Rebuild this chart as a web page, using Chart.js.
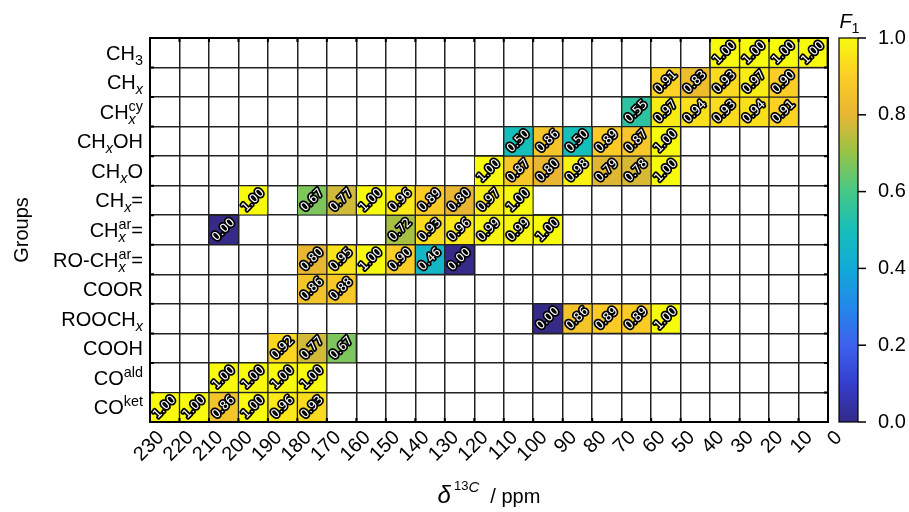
<!DOCTYPE html>
<html>
<head>
<meta charset="utf-8">
<script src="https://cdn.jsdelivr.net/npm/chart.js@4.4.0/dist/chart.umd.min.js"></script>
<style>
  html, body { margin: 0; padding: 0; background: #fff; }
  #wrap { width: 909px; height: 512px; }
</style>
</head>
<body>
<div id="wrap"><canvas id="chart" width="909" height="512"></canvas></div>
<script>
// group labels, top to bottom ("_" = subscript, "^" = superscript)
const groups = ['CH_3', 'CH_x', 'CH_x^{cy}', 'CH_xOH', 'CH_xO', 'CH_x=', 'CH_x^{ar}=',
    'RO-CH_x^{ar}=', 'COOR', 'ROOCH_x', 'COOH', 'CO^{ald}', 'CO^{ket}'];

const ppmMin = 0;
const ppmMax = 230;
const binWidth = 10;
const cbTicks = [0, 0.2, 0.4, 0.6, 0.8, 1.0];

// lower edge (ppm) of each filled cell, one list per group
const cellLow = [
    [30, 20, 10, 0],
    [50, 40, 30, 20, 10],
    [60, 50, 40, 30, 20, 10],
    [100, 90, 80, 70, 60, 50],
    [110, 100, 90, 80, 70, 60, 50],
    [190, 170, 160, 150, 140, 130, 120, 110, 100],
    [200, 140, 130, 120, 110, 100, 90],
    [170, 160, 150, 140, 130, 120],
    [170, 160],
    [90, 80, 70, 60, 50],
    [180, 170, 160],
    [200, 190, 180, 170],
    [220, 210, 200, 190, 180, 170]
];

// F1 score of each cell, same order as cellLow
const cellF1 = [
    [1.00, 1.00, 1.00, 1.00],
    [0.91, 0.83, 0.93, 0.97, 0.90],
    [0.55, 0.97, 0.94, 0.93, 0.94, 0.91],
    [0.50, 0.86, 0.50, 0.89, 0.87, 1.00],
    [1.00, 0.87, 0.80, 0.98, 0.79, 0.78, 1.00],
    [1.00, 0.67, 0.77, 1.00, 0.96, 0.89, 0.80, 0.97, 1.00],
    [0.00, 0.72, 0.93, 0.96, 0.99, 0.99, 1.00],
    [0.80, 0.95, 1.00, 0.90, 0.46, 0.00],
    [0.86, 0.88],
    [0.00, 0.86, 0.89, 0.89, 1.00],
    [0.92, 0.77, 0.67],
    [1.00, 1.00, 1.00, 1.00],
    [1.00, 1.00, 0.86, 1.00, 0.96, 0.93]
];

// parula-like colour map
const cmapPos = [0, 0.1, 0.2, 0.3, 0.4, 0.5, 0.6, 0.7, 0.8, 0.9, 1.0];
const cmapRGB = [
    [53, 42, 135], [52, 62, 205], [62, 98, 238], [35, 136, 233], [18, 170, 215],
    [22, 190, 185], [70, 200, 135], [150, 195, 72], [232, 182, 50], [252, 205, 38], [248, 250, 14]
];

function f1Color(v) {
    v = Math.max(0, Math.min(1, v));
    let i = 0;
    while (i < cmapPos.length - 2 && v > cmapPos[i + 1]) i++;
    const t = (v - cmapPos[i]) / (cmapPos[i + 1] - cmapPos[i]);
    const a = cmapRGB[i], b = cmapRGB[i + 1];
    const c = a.map((x, k) => Math.round(x + (b[k] - x) * t));
    return `rgb(${c[0]},${c[1]},${c[2]})`;
}

const FONT = "'Liberation Sans', Arial, sans-serif";
const FS = 20;

// turn 'CH_x^{cy}' into runs of normal / sub / sup text
function parseRich(s) {
    const runs = [];
    let buf = '';
    let i = 0;
    while (i < s.length) {
        const ch = s[i];
        if (ch === '_' || ch === '^') {
            if (buf) { runs.push({ t: buf, mode: 'n' }); buf = ''; }
            let arg;
            if (s[i + 1] === '{') {
                const end = s.indexOf('}', i);
                arg = s.slice(i + 2, end);
                i = end + 1;
            } else {
                arg = s[i + 1];
                i += 2;
            }
            runs.push({ t: arg, mode: ch === '_' ? 'sub' : 'sup', italic: arg === 'x' });
        } else {
            buf += ch;
            i++;
        }
    }
    if (buf) runs.push({ t: buf, mode: 'n' });
    return runs;
}

function runFont(r, size) {
    const sz = r.mode === 'n' ? size : size * 0.72;
    return `${r.italic ? 'italic ' : ''}${sz}px ${FONT}`;
}

// draw runs; sub directly followed by sup are stacked
function drawRich(ctx, runs, x, y, align, size) {
    const pieces = [];
    let w = 0;
    for (let i = 0; i < runs.length; i++) {
        const r = runs[i];
        ctx.font = runFont(r, size);
        const rw = ctx.measureText(r.t).width;
        const next = runs[i + 1];
        if (r.mode !== 'n' && next && next.mode !== 'n' && next.mode !== r.mode) {
            ctx.font = runFont(next, size);
            const nw = ctx.measureText(next.t).width;
            pieces.push({ r, x: w }, { r: next, x: w });
            w += Math.max(rw, nw);
            i++;
        } else {
            pieces.push({ r, x: w });
            w += rw;
        }
    }
    const x0 = align === 'right' ? x - w : align === 'center' ? x - w / 2 : x;
    ctx.textAlign = 'left';
    ctx.textBaseline = 'alphabetic';
    pieces.forEach(p => {
        ctx.font = runFont(p.r, size);
        let dy = 0;
        if (p.r.mode === 'sub') dy = size * 0.25;
        if (p.r.mode === 'sup') dy = -size * 0.4;
        ctx.fillText(p.r.t, x0 + p.x, y + dy);
    });
}

const cells = [];
groups.forEach((g, r) => {
    cellLow[r].forEach((lo, k) => {
        cells.push({ x: [lo, lo + binWidth], y: g, v: cellF1[r][k] });
    });
});

const heatPlugin = {
    id: 'heatDecor',
    afterDatasetsDraw(chart) {
        const ctx = chart.ctx;
        const area = chart.chartArea;
        const xs = chart.scales.x;
        const meta = chart.getDatasetMeta(0);

        // values in the cells
        ctx.save();
        ctx.font = `12px 'DejaVu Sans', sans-serif`;
        ctx.textAlign = 'center';
        ctx.textBaseline = 'middle';
        ctx.lineJoin = 'round';
        meta.data.forEach((el, i) => {
            const c = el.getCenterPoint();
            const txt = chart.data.datasets[0].data[i].v.toFixed(2);
            ctx.save();
            ctx.translate(c.x, c.y);
            ctx.rotate(-Math.PI / 4);
            ctx.lineWidth = 3.5;
            ctx.strokeStyle = '#000';
            ctx.strokeText(txt, 0, 0);
            ctx.fillStyle = '#fff';
            ctx.fillText(txt, 0, 0);
            ctx.restore();
        });
        ctx.restore();

        // frame and inward ticks
        ctx.save();
        ctx.strokeStyle = '#000';
        ctx.lineWidth = 2;
        for (let v = ppmMin; v <= ppmMax; v += binWidth) {
            const px = xs.getPixelForValue(v);
            ctx.beginPath();
            ctx.moveTo(px, area.top); ctx.lineTo(px, area.top + 4);
            ctx.moveTo(px, area.bottom); ctx.lineTo(px, area.bottom - 4);
            ctx.stroke();
        }
        const rowH = (area.bottom - area.top) / groups.length;
        for (let r = 0; r <= groups.length; r++) {
            const py = area.top + r * rowH;
            ctx.beginPath();
            ctx.moveTo(area.left, py); ctx.lineTo(area.left + 4, py);
            ctx.moveTo(area.right, py); ctx.lineTo(area.right - 4, py);
            ctx.stroke();
        }
        ctx.strokeRect(area.left, area.top, area.right - area.left, area.bottom - area.top);
        ctx.restore();
    },
    afterDraw(chart) {
        const ctx = chart.ctx;
        const area = chart.chartArea;
        const ys = chart.scales.y;
        const cb = chart.scales.cb;

        ctx.save();
        ctx.fillStyle = '#000';

        // group labels
        groups.forEach((g, i) => {
            const py = ys.getPixelForValue(i);
            drawRich(ctx, parseRich(g), area.left - 7, py + 7, 'right', FS);
        });

        // x axis title: delta^13C / ppm
        const cx = (area.left + area.right) / 2;
        ctx.font = `italic 24px ${FONT}`;
        const wD = ctx.measureText('δ').width;
        ctx.font = `13px ${FONT}`;
        const w13 = ctx.measureText('13').width;
        ctx.font = `italic 15px ${FONT}`;
        const wC = ctx.measureText('C').width;
        ctx.font = `${FS}px ${FONT}`;
        const wP = ctx.measureText('  / ppm').width;
        const total = wD + w13 + wC + wP + 3;
        let tx = cx - total / 2;
        const ty = 503;
        ctx.textAlign = 'left';
        ctx.textBaseline = 'alphabetic';
        ctx.font = `italic 24px ${FONT}`;
        ctx.fillText('δ', tx, ty); tx += wD + 3;
        ctx.font = `13px ${FONT}`;
        ctx.fillText('13', tx, ty - 13); tx += w13;
        ctx.font = `italic 15px ${FONT}`;
        ctx.fillText('C', tx, ty - 11); tx += wC;
        ctx.font = `${FS}px ${FONT}`;
        ctx.fillText('  / ppm', tx, ty);

        // colour bar
        const bx = cb.left + 11;
        const bw = 19;
        const grad = ctx.createLinearGradient(0, cb.bottom, 0, cb.top);
        cmapPos.forEach(p => grad.addColorStop(p, f1Color(p)));
        ctx.fillStyle = grad;
        ctx.fillRect(bx, cb.top, bw, cb.bottom - cb.top);
        ctx.strokeStyle = '#000';
        ctx.lineWidth = 1.2;
        ctx.strokeRect(bx, cb.top, bw, cb.bottom - cb.top);
        ctx.lineWidth = 1.5;
        cbTicks.forEach(v => {
            const py = cb.getPixelForValue(v);
            ctx.beginPath();
            ctx.moveTo(bx + bw, py); ctx.lineTo(bx + bw + 8, py);
            ctx.stroke();
        });

        // colour bar title F1
        ctx.fillStyle = '#000';
        drawRich(ctx, [{ t: 'F', mode: 'n', italic: true }, { t: '1', mode: 'sub' }], bx + bw / 2 + 1, cb.top - 10, 'center', FS);
        ctx.restore();
    }
};

new Chart(document.getElementById('chart'), {
    type: 'bar',
    data: {
        datasets: [{
            data: cells,
            backgroundColor: ctx => ctx.raw ? f1Color(ctx.raw.v) : 'transparent',
            borderColor: '#222',
            borderWidth: 1,
            borderSkipped: false,
            barPercentage: 1,
            categoryPercentage: 1
        }]
    },
    options: {
        indexAxis: 'y',
        responsive: false,
        animation: false,
        layout: { padding: { left: 0, right: 0, top: 38, bottom: 0 } },
        plugins: {
            legend: { display: false },
            tooltip: { enabled: false }
        },
        scales: {
            x: {
                type: 'linear',
                position: 'bottom',
                min: ppmMin,
                max: ppmMax,
                reverse: true,
                afterFit: s => {
                    s.height = 90;
                    s.paddingLeft = 0;
                    s.paddingRight = 0;
                },
                ticks: {
                    stepSize: binWidth,
                    autoSkip: false,
                    minRotation: 45,
                    maxRotation: 45,
                    padding: 4,
                    // centre the rotated label on its tick
                    labelOffset: c => 3.5 + 2.5 * String(c.tick ? c.tick.value : '000').length,
                    color: '#000',
                    font: { family: FONT, size: FS }
                },
                grid: { color: '#222', lineWidth: 1.5, drawTicks: false },
                border: { display: false }
            },
            y: {
                type: 'category',
                labels: groups,
                offset: true,
                afterFit: s => {
                    s.width = 150;
                    s.paddingTop = 0;
                    s.paddingBottom = 0;
                },
                ticks: { display: false },
                grid: { color: '#222', lineWidth: 1.5, offset: true, drawTicks: false },
                border: { display: false },
                title: {
                    display: true,
                    text: 'Groups',
                    color: '#000',
                    font: { family: FONT, size: FS },
                    padding: { top: 10, bottom: 0 }
                }
            },
            cb: {
                type: 'linear',
                axis: 'y',
                position: 'right',
                min: 0,
                max: 1,
                offset: false,
                afterFit: s => {
                    s.width = 81;
                    s.paddingTop = 0;
                    s.paddingBottom = 0;
                },
                ticks: {
                    stepSize: 0.2,
                    padding: 42,
                    color: '#000',
                    font: { family: FONT, size: FS },
                    callback: v => v.toFixed(1)
                },
                grid: { display: false, offset: false },
                border: { display: false }
            }
        }
    },
    plugins: [heatPlugin]
});
</script>
</body>
</html>
